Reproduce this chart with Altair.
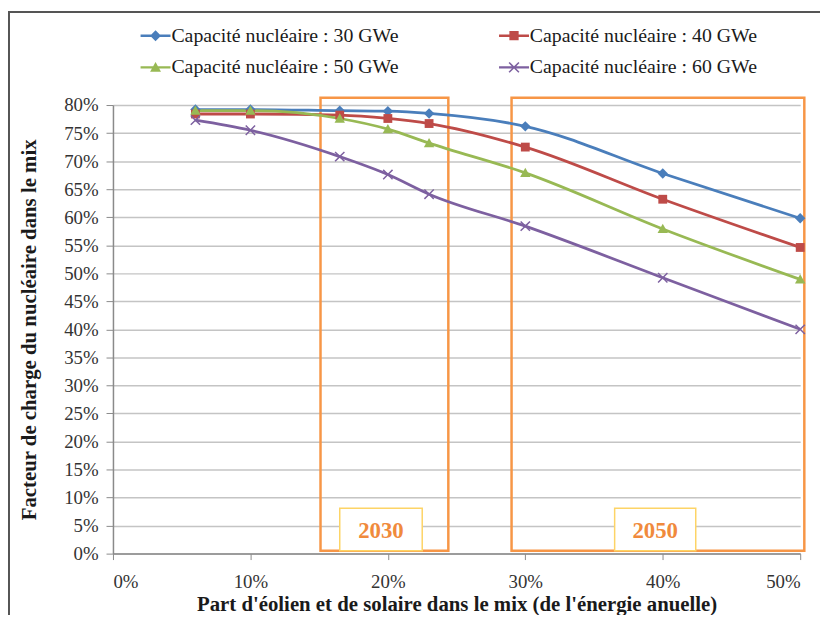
import altair as alt
import pandas as pd

# ---------------- data ----------------
x_share = [0.06, 0.10, 0.165, 0.20, 0.23, 0.30, 0.40, 0.50]
series_names = [
    "Capacité nucléaire : 30 GWe",
    "Capacité nucléaire : 40 GWe",
    "Capacité nucléaire : 50 GWe",
    "Capacité nucléaire : 60 GWe",
]
cap30 = [0.792, 0.792, 0.790, 0.789, 0.785, 0.762, 0.678, 0.598]
cap40 = [0.784, 0.784, 0.782, 0.776, 0.767, 0.725, 0.632, 0.546]
cap50 = [0.790, 0.790, 0.776, 0.757, 0.732, 0.679, 0.579, 0.489]
cap60 = [0.773, 0.755, 0.708, 0.676, 0.641, 0.584, 0.492, 0.400]

periods = ["2030", "2050"]
period_x0 = [0.151, 0.290]
period_x1 = [0.244, 0.503]
period_y0 = [0.005, 0.005]
period_y1 = [0.813, 0.813]
label_x0 = [0.165, 0.365]
label_x1 = [0.225, 0.424]
label_y0 = [0.005, 0.005]
label_y1 = [0.081, 0.081]
label_y = [0.041, 0.041]

x_ticks = [0.0, 0.1, 0.2, 0.3, 0.4, 0.5]
y_ticks = [i / 100 for i in range(0, 81, 5)]

colors = ["#4a7ebb", "#be4b48", "#98b954", "#7d60a0"]

# ---------------- tables ----------------
rows = []
for name, vals in zip(series_names, [cap30, cap40, cap50, cap60]):
    for xv, yv in zip(x_share, vals):
        rows.append({"serie": name, "part": xv, "facteur": yv})
df = pd.DataFrame(rows)

boxes = pd.DataFrame({"periode": periods, "x0": period_x0, "x1": period_x1,
                      "y0": period_y0, "y1": period_y1})
labels = pd.DataFrame({"periode": periods, "x0": label_x0, "x1": label_x1,
                       "y0": label_y0, "y1": label_y1, "y": label_y})

FONT = "Liberation Serif"

xscale = alt.Scale(domain=[0, 0.5], nice=False, zero=True)
yscale = alt.Scale(domain=[0, 0.8], nice=False)
cscale = alt.Scale(domain=series_names, range=colors)

x_axis = alt.Axis(
    values=x_ticks, format=".0%", grid=False,
    title="Part d'éolien et de solaire dans le mix (de l'énergie anuelle)",
    labelFont=FONT, labelFontSize=19, labelColor="#333333", labelPadding=13,
    tickSize=6, tickColor="#8a8a8a", domainColor="#8a8a8a", domainWidth=1.5,
    titleFont=FONT, titleFontSize=21, titleFontWeight="bold", titleColor="#1a1a1a",
    titlePadding=2,
)
y_axis = alt.Axis(
    values=y_ticks, format=".0%", grid=True, gridColor="#c4c4c4", gridWidth=1.5,
    title="Facteur de charge du nucléaire dans le mix",
    labelFont=FONT, labelFontSize=19, labelColor="#333333", labelPadding=8,
    tickSize=7, tickColor="#8a8a8a", domainColor="#8a8a8a", domainWidth=1.5,
    titleFont=FONT, titleFontSize=21, titleFontWeight="bold", titleColor="#1a1a1a",
    titlePadding=24,
)


def X(field):
    return alt.X(field, type="quantitative", scale=xscale, axis=x_axis)


def Y(field):
    return alt.Y(field, type="quantitative", scale=yscale, axis=y_axis)


legend = alt.Legend(
    title=None, orient="none", legendX=33, legendY=-80, columns=2, direction="horizontal",
    columnPadding=100, rowPadding=12, labelFont=FONT, labelFontSize=20,
    labelColor="#1a1a1a", labelOffset=6, symbolSize=121, symbolStrokeWidth=0,
    symbolOpacity=1, labelLimit=400,
)

marker_paths = [
    "M0,-1L1,0L0,1L-1,0Z",
    "M-0.85,-0.85H0.85V0.85H-0.85Z",
    "M0,-1L1,0.8H-1Z",
    "M-1,-0.8L-0.8,-1L0,-0.2L0.8,-1L1,-0.8L0.2,0L1,0.8L0.8,1L0,0.2L-0.8,1L-1,0.8L-0.2,0Z",
]
line_part = "M-2.75,-0.22H2.75V0.22H-2.75Z"
legend_paths = [line_part + p for p in marker_paths]

base = alt.Chart(df)

frame = alt.Chart(pd.DataFrame({"k": [0]})).mark_rect(
    fill=None, stroke="#555555", strokeWidth=2
).encode(
    x=alt.value(-105), x2=alt.value(1000), y=alt.value(-94), y2=alt.value(1000)
)

period_boxes = alt.Chart(boxes).mark_rect(
    fill=None, stroke="#f79646", strokeWidth=2.5
).encode(x=X("x0"), x2="x1:Q", y=Y("y0"), y2="y1:Q")

series_layers = []
for name, col, path in zip(series_names, colors, marker_paths):
    sub = base.transform_filter(alt.datum.serie == name)
    series_layers.append(
        sub.mark_line(strokeWidth=2.8, interpolate="monotone", color=col)
        .encode(x=X("part"), y=Y("facteur"))
    )
for name, col, path in zip(series_names, colors, marker_paths):
    sub = base.transform_filter(alt.datum.serie == name)
    series_layers.append(
        sub.mark_point(filled=True, size=110, opacity=1, shape=path, color=col)
        .encode(x=X("part"), y=Y("facteur"))
    )

# legend-only layer: no rows drawn, the legend comes from the explicit scale domains
legend_layer = base.transform_filter("false").mark_point(filled=True, size=121).encode(
    x=X("part"), y=Y("facteur"),
    color=alt.Color("serie:N", scale=cscale, legend=legend),
    shape=alt.Shape("serie:N", scale=alt.Scale(domain=series_names, range=legend_paths), legend=legend),
)

label_boxes = alt.Chart(labels).mark_rect(
    fill="white", stroke="#fdd466", strokeWidth=1.5
).encode(x=X("x0"), x2="x1:Q", y=Y("y0"), y2="y1:Q")

label_text = alt.Chart(labels).transform_calculate(
    xm="(datum.x0 + datum.x1) / 2"
).mark_text(
    font=FONT, fontSize=23, fontWeight="bold", color="#f08a3c", baseline="middle", align="center"
).encode(x=X("xm"), y=Y("y"), text="periode:N")

chart = alt.layer(
    frame, period_boxes, *series_layers, legend_layer, label_boxes, label_text
).properties(
    width=694, height=453,
    autosize=alt.AutoSizeParams(type="none"),
    padding={"left": 106, "top": 95, "right": 20, "bottom": 59},
    background="white",
).configure_view(stroke=None).configure_legend(labelFont=FONT)

chart.save("out.html", embed_options={"renderer": "svg", "actions": False})
